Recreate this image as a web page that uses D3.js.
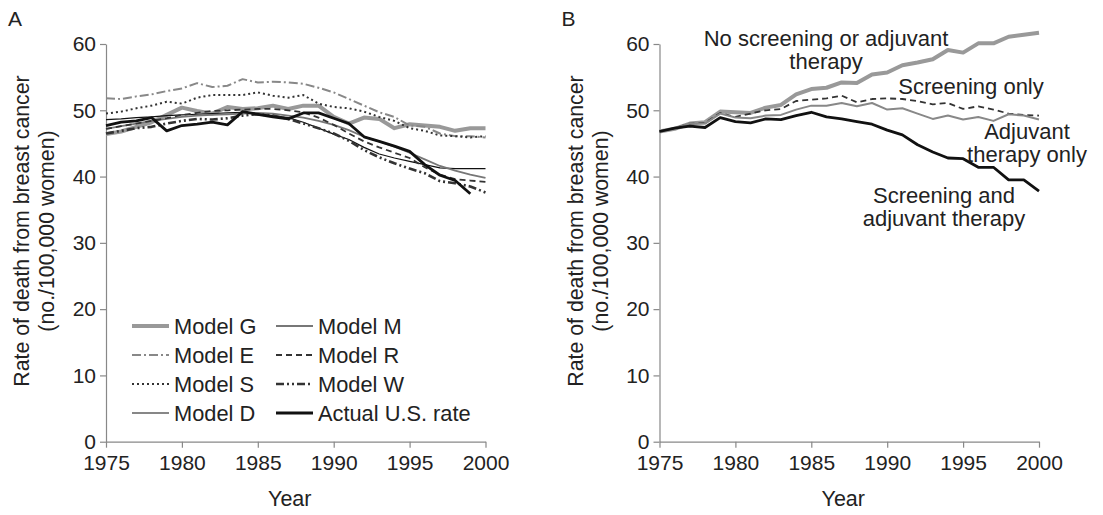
<!DOCTYPE html>
<html>
<head>
<meta charset="utf-8">
<script src="https://cdn.jsdelivr.net/npm/d3@7"></script>
<style>
  body { margin: 0; background: #fff; }
  svg { display: block; font-family: "Liberation Sans", Arial, Helvetica, sans-serif; }
  .axis path, .axis line { stroke: #888; stroke-width: 1.2; }
  .axis text { fill: #222; font-size: 21px; }
</style>
</head>
<body>
<svg id="chart" width="1103" height="515"></svg>
<script>
// years shared by both panels
var years = d3.range(1975, 2001);
var xTicks = [1975, 1980, 1985, 1990, 1995, 2000];
var yTicks = [0, 10, 20, 30, 40, 50, 60];

// panel A: model estimates
var modelG = [46.4,46.8,47.5,48.2,49.3,50.4,49.9,49.5,50.5,50.2,50.3,50.7,50.2,50.7,50.7,49.0,48.0,48.9,48.7,47.3,47.9,47.7,47.5,46.9,47.3,47.3];
var modelE = [51.8,51.7,52.1,52.4,52.9,53.3,54.1,53.5,53.7,54.7,54.2,54.3,54.2,54.0,53.4,52.7,51.7,50.7,49.7,49.0,47.7,47.5,46.5,46.1,46.1,45.9];
var modelS = [49.5,49.8,50.3,50.7,51.3,51.0,51.9,52.3,52.3,52.3,52.7,52.2,51.9,52.3,51.0,50.5,50.3,49.8,49.0,48.4,47.3,46.9,46.2,46.1,45.9,46.1];
var modelD = [48.6,48.7,48.9,49.0,49.2,49.3,49.4,49.5,49.6,49.7,49.5,49.2,48.9,48.2,47.3,46.4,45.6,44.4,43.4,42.8,42.3,41.8,41.3,41.2,41.2,41.2];
var modelM = [47.2,47.6,48.0,48.4,48.7,49.0,49.2,49.3,49.4,49.5,49.6,49.5,49.2,48.9,48.4,47.8,47.0,46.0,45.3,44.5,43.6,42.6,41.6,40.9,40.3,39.8];
var modelR = [47.2,47.6,48.0,48.4,48.8,49.3,49.6,49.9,50.0,50.1,50.2,50.2,50.0,49.7,48.9,47.8,46.5,45.3,44.4,43.6,42.8,41.4,40.3,39.6,39.4,39.2];
var modelW = [46.5,46.9,47.3,47.5,48.0,48.4,48.7,48.6,48.8,49.2,49.4,49.2,48.7,48.0,47.3,46.5,45.4,44.0,42.9,42.0,41.2,40.5,39.3,39.0,38.5,37.6];
var actualUS = [47.7,48.2,48.4,48.9,46.9,47.7,47.9,48.2,47.8,49.8,49.4,49.0,48.7,49.6,49.6,48.8,48.0,46.0,45.3,44.6,43.8,41.8,40.2,39.4,37.4,null];

// panel B: scenarios
var noScreening = [46.8,47.2,48.0,48.2,49.8,49.7,49.6,50.4,50.8,52.4,53.2,53.4,54.2,54.1,55.4,55.7,56.8,57.2,57.7,59.1,58.7,60.1,60.1,61.1,61.4,61.7];
var screeningOnly = [46.8,47.3,48.0,48.1,49.6,49.0,49.5,50.0,50.2,51.4,51.6,51.8,52.2,51.2,51.7,51.8,51.7,51.4,50.9,51.1,50.2,50.6,50.1,49.5,49.3,49.2];
var adjuvantOnly = [46.8,47.3,48.0,48.0,49.5,48.9,48.8,49.2,49.3,50.1,50.7,50.7,51.1,50.6,51.1,50.1,50.3,49.5,48.7,49.2,48.6,49.0,48.4,49.4,49.2,48.6];
var screenAdjuvant = [46.8,47.3,47.6,47.4,48.9,48.3,48.1,48.7,48.6,49.2,49.7,49.0,48.7,48.3,47.9,47.0,46.3,44.8,43.7,42.8,42.7,41.4,41.4,39.5,39.5,37.8];

var seriesA = [
  { name: "Model G", values: modelG, color: "#999", width: 4, dash: null },
  { name: "Model E", values: modelE, color: "#888", width: 2, dash: "9,3,2,3" },
  { name: "Model S", values: modelS, color: "#333", width: 2, dash: "2,3" },
  { name: "Model D", values: modelD, color: "#111", width: 1.2, dash: null },
  { name: "Model M", values: modelM, color: "#777", width: 1.8, dash: null },
  { name: "Model R", values: modelR, color: "#333", width: 1.8, dash: "6,4" },
  { name: "Model W", values: modelW, color: "#333", width: 2.6, dash: "8,3,2,3,2,3" },
  { name: "Actual U.S. rate", values: actualUS, color: "#111", width: 2.8, dash: null }
];
var seriesB = [
  { name: "No screening", values: noScreening, color: "#999", width: 4, dash: null },
  { name: "Screening only", values: screeningOnly, color: "#333", width: 1.8, dash: "6,4" },
  { name: "Adjuvant only", values: adjuvantOnly, color: "#888", width: 2, dash: null },
  { name: "Screening and adjuvant", values: screenAdjuvant, color: "#111", width: 2.8, dash: null }
];

var svg = d3.select("#chart");
var plotTop = 44, plotH = 397.7, plotW = 379.5;

function panel(left, series, letter) {
  var x = d3.scaleLinear().domain([1975, 2000]).range([0, plotW]);
  var y = d3.scaleLinear().domain([0, 60]).range([plotH, 0]);
  var g = svg.append("g").attr("transform", "translate(" + left + "," + plotTop + ")");

  g.append("g").attr("class", "axis")
    .attr("transform", "translate(0," + plotH + ")")
    .call(d3.axisBottom(x).tickValues(xTicks).tickFormat(d3.format("d")).tickSize(6).tickSizeOuter(0).tickPadding(7));
  g.append("g").attr("class", "axis")
    .call(d3.axisLeft(y).tickValues(yTicks).tickSize(6).tickSizeOuter(0).tickPadding(4));
  g.selectAll(".axis text").attr("font-family", "Liberation Sans, Arial, sans-serif");

  var line = d3.line()
    .defined(function(d) { return d != null; })
    .x(function(d, i) { return x(years[i]); })
    .y(function(d) { return y(d); });

  series.forEach(function(s) {
    g.append("path")
      .attr("d", line(s.values))
      .attr("fill", "none")
      .attr("stroke", s.color)
      .attr("stroke-width", s.width)
      .attr("stroke-dasharray", s.dash)
      .attr("stroke-linejoin", "round");
  });

  // axis titles
  var tx = left - 77;
  var yt = svg.append("text")
    .attr("transform", "translate(" + tx + ",231) rotate(-90)")
    .attr("text-anchor", "middle").attr("font-size", 21.3).attr("fill", "#222");
  yt.append("tspan").attr("x", 0).attr("y", 0).text("Rate of death from breast cancer");
  yt.append("tspan").attr("x", 0).attr("y", 25).text("(no./100,000 women)");

  svg.append("text")
    .attr("x", left + plotW / 2 - 6).attr("y", 506)
    .attr("text-anchor", "middle").attr("font-size", 21.5).attr("fill", "#222")
    .text("Year");

  svg.append("text")
    .attr("x", left - 98).attr("y", 26)
    .attr("font-size", 21).attr("fill", "#222")
    .text(letter);

  return g;
}

panel(106, seriesA, "A");
panel(659.5, seriesB, "B");

// legend for panel A, two columns of four
var legendOrder = [[0, 1, 2, 3], [4, 5, 6, 7]];
var legendX = [132, 276];
legendOrder.forEach(function(col, c) {
  col.forEach(function(si, r) {
    var s = seriesA[si];
    var ly = 326 + r * 29;
    svg.append("line")
      .attr("x1", legendX[c]).attr("x2", legendX[c] + 37)
      .attr("y1", ly).attr("y2", ly)
      .attr("stroke", s.color).attr("stroke-width", s.width)
      .attr("stroke-dasharray", s.dash);
    svg.append("text")
      .attr("x", legendX[c] + 42).attr("y", ly + 7.8)
      .attr("font-size", 21.8).attr("fill", "#222")
      .text(s.name);
  });
});

// annotations for panel B
var notes = [
  { lines: ["No screening or adjuvant", "therapy"], x: 826, y: 46 },
  { lines: ["Screening only"], x: 971, y: 94 },
  { lines: ["Adjuvant", "therapy only"], x: 1027, y: 139 },
  { lines: ["Screening and", "adjuvant therapy"], x: 944, y: 203 }
];
notes.forEach(function(n) {
  var t = svg.append("text").attr("text-anchor", "middle")
    .attr("font-size", 22).attr("fill", "#222");
  n.lines.forEach(function(l, i) {
    t.append("tspan").attr("x", n.x).attr("y", n.y + i * 23).text(l);
  });
});
</script>
</body>
</html>
